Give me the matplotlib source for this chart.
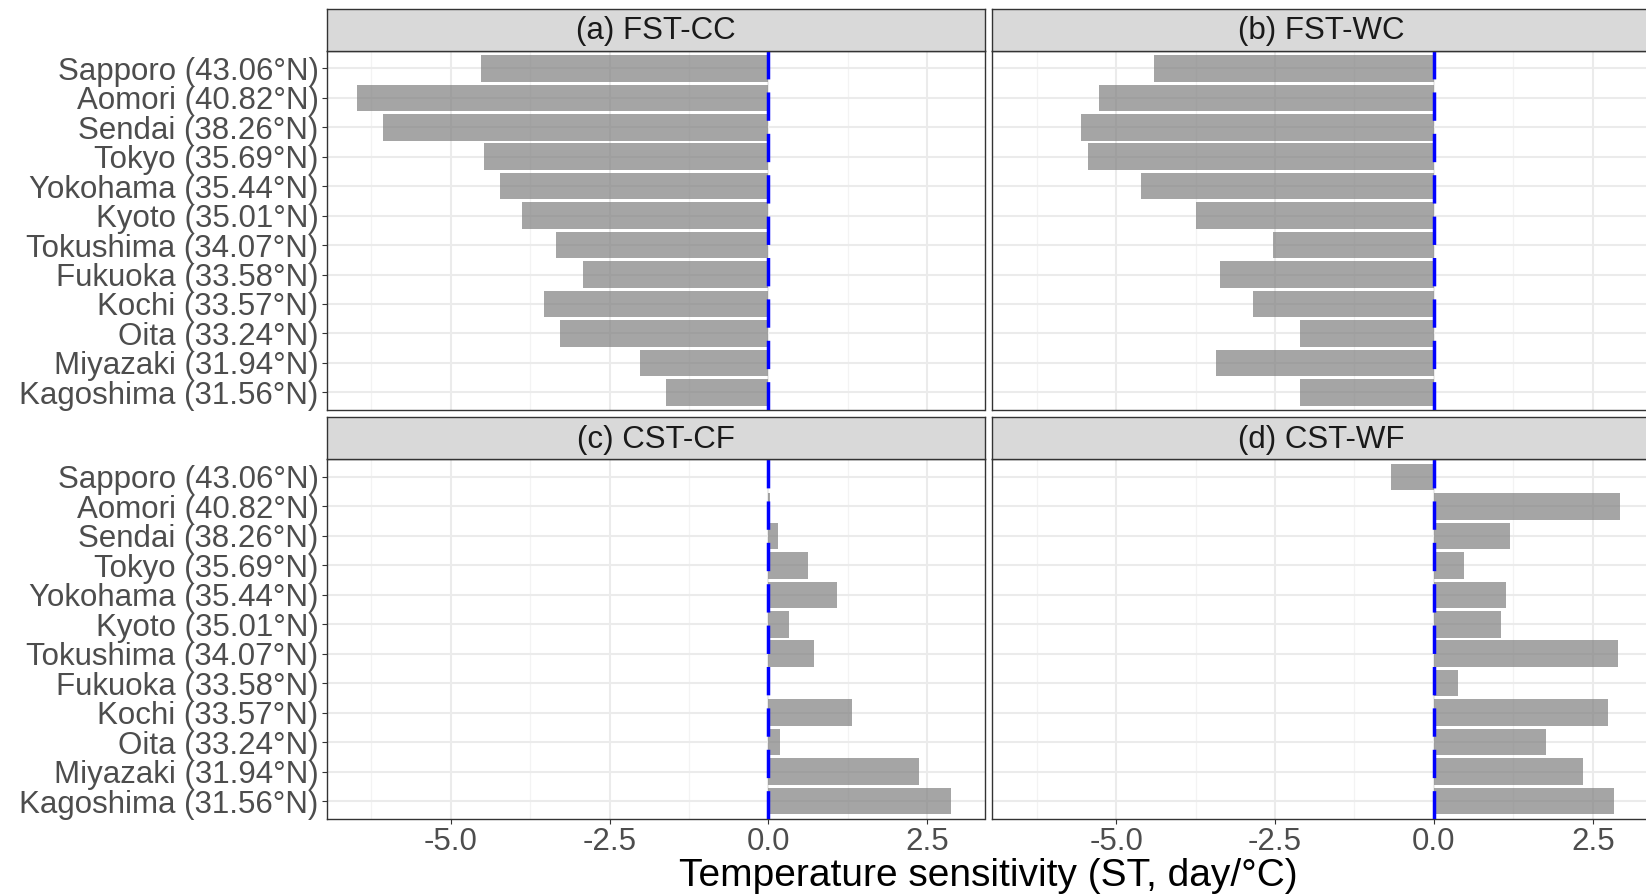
import numpy as np
import matplotlib.pyplot as plt

plt.rcParams['font.family'] = ['Liberation Sans', 'DejaVu Sans']

# Cities ordered north to south
cities = ['Sapporo (43.06°N)', 'Aomori (40.82°N)', 'Sendai (38.26°N)', 'Tokyo (35.69°N)',
          'Yokohama (35.44°N)', 'Kyoto (35.01°N)', 'Tokushima (34.07°N)', 'Fukuoka (33.58°N)',
          'Kochi (33.57°N)', 'Oita (33.24°N)', 'Miyazaki (31.94°N)', 'Kagoshima (31.56°N)']

panel_titles = ['(a) FST-CC', '(b) FST-WC', '(c) CST-CF', '(d) CST-WF']

# Temperature sensitivity (day/°C) per city
fst_cc = [-4.52, -6.48, -6.07, -4.48, -4.23, -3.88, -3.34, -2.92, -3.54, -3.28, -2.02, -1.61]
fst_wc = [-4.40, -5.27, -5.56, -5.44, -4.61, -3.75, -2.53, -3.36, -2.84, -2.10, -3.43, -2.10]
cst_cf = [0.0, 0.02, 0.15, 0.62, 1.08, 0.33, 0.71, 0.0, 1.32, 0.18, 2.37, 2.88]
cst_wf = [-0.68, 2.93, 1.20, 0.47, 1.14, 1.05, 2.89, 0.38, 2.74, 1.76, 2.34, 2.84]
series = [fst_cc, fst_wc, cst_cf, cst_wf]

x_major = [-5.0, -2.5, 0.0, 2.5]
x_minor = [-6.25, -3.75, -1.25, 1.25]
x_labels = ['-5.0', '-2.5', '0.0', '2.5']

W, H = 1646, 896
fig = plt.figure(figsize=(W / 100, H / 100), dpi=100)

# pixel boxes: (left, right) per column, (strip_top, panel_top, panel_bottom) per row
cols = [(327, 984.5), (992.2, 1650)]
rows = [(9.3, 50.7, 410.0), (417.3, 459.3, 818.7)]

allvals = np.concatenate([np.array(s) for s in series])
lo, hi = allvals.min(), allvals.max()
pad = 0.05 * (hi - lo)
xlim = (lo - pad, hi + pad)

n = len(cities)
ypos = np.arange(n, 0, -1)

edge = '#333333'
lw_dash = 2.5

for i, vals in enumerate(series):
    r, c = divmod(i, 2)
    left, right = cols[c]
    s_top, p_top, p_bot = rows[r]

    ax = fig.add_axes([left / W, 1 - p_bot / H, (right - left) / W, (p_bot - p_top) / H])
    ax.set_xlim(*xlim)
    ax.set_ylim(0.4, n + 0.6)
    ax.set_xticks(x_major)
    ax.set_xticks(x_minor, minor=True)
    ax.set_yticks(ypos)
    ax.grid(True, which='major', color='#EBEBEB', lw=1.5, zorder=0)
    ax.grid(True, which='minor', axis='x', color='#F3F3F3', lw=0.9, zorder=0)
    ax.set_axisbelow(True)

    ax.barh(ypos, vals, height=0.9, color='#7F7F7F', alpha=0.7, lw=0, zorder=2)
    ax.axvline(0, color='#0000FF', lw=lw_dash, zorder=3,
               linestyle=(0, (20.4 / lw_dash, 9.4 / lw_dash)))

    for sp in ax.spines.values():
        sp.set_color(edge)
        sp.set_linewidth(1.0)

    ax.tick_params(axis='both', which='major', length=3.5, width=0.8, color=edge,
                   labelsize=22.5, labelcolor='#4D4D4D', pad=2.5)
    ax.tick_params(axis='both', which='minor', length=0)
    if c == 0:
        ax.set_yticklabels(cities)
    else:
        ax.tick_params(axis='y', length=0, labelleft=False)
    if r == 1:
        ax.set_xticklabels(x_labels)
    else:
        ax.tick_params(axis='x', length=0, labelbottom=False)

    # facet strip
    sax = fig.add_axes([left / W, 1 - p_top / H, (right - left) / W, (p_top - s_top) / H])
    sax.set_facecolor('#D9D9D9')
    sax.set_xticks([])
    sax.set_yticks([])
    for sp in sax.spines.values():
        sp.set_color(edge)
        sp.set_linewidth(1.0)
    sax.text(0.5, 0.47, panel_titles[i], transform=sax.transAxes, ha='center', va='center',
             fontsize=22.5, color='#1A1A1A')

fig.text((327 + 1650) / 2 / W, 1 - 876 / H, 'Temperature sensitivity (ST, day/°C)',
         ha='center', va='center', fontsize=28, color='black')

fig.savefig('out.png', dpi=100)
